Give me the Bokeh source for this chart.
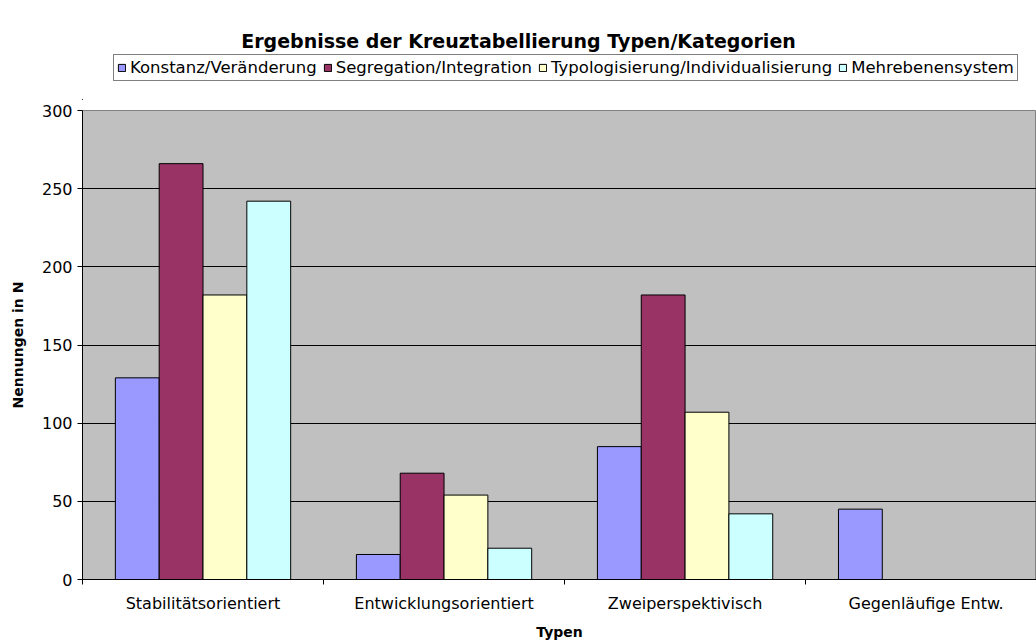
from bokeh.plotting import figure
from bokeh.layouts import column
from bokeh.models import (ColumnDataSource, Range1d, FixedTicker, Legend, LegendItem, Label)
from bokeh.transform import dodge
from bokeh.embed import file_html
from bokeh.resources import INLINE

categories = ["Stabilitätsorientiert", "Entwicklungsorientiert", "Zweiperspektivisch", "Gegenläufige Entw."]
series_names = ["Konstanz/Veränderung", "Segregation/Integration",
                "Typologisierung/Individualisierung", "Mehrebenensystem"]
konstanz = [129, 16, 85, 45]
segregation = [266, 68, 182, 0]
typologisierung = [182, 54, 107, 0]
mehrebenen = [242, 20, 42, 0]
y_ticks = [0, 50, 100, 150, 200, 250, 300]
title_text = "Ergebnisse der Kreuztabellierung Typen/Kategorien"

colors = ["#9999FF", "#993366", "#FFFFCC", "#CCFFFF"]
FONT = "DejaVu Sans"

HEAD_H = 100

# ---------- header figure: title + legend ----------
head = figure(frame_width=1036, frame_height=HEAD_H, output_backend="svg", toolbar_location=None,
              x_range=Range1d(0, 1036), y_range=Range1d(0, HEAD_H),
              min_border_left=0, min_border_right=0, min_border_top=0, min_border_bottom=0)
head.axis.visible = False
head.grid.visible = False
head.outline_line_color = None
head.background_fill_color = "white"
head.border_fill_color = "white"

# legend swatches only (placed outside the visible range)
dummy = ColumnDataSource(dict(x=[-5000], top=[1]))
head_renderers = []
for c in colors:
    r = head.vbar(x="x", top="top", width=1, bottom=0, source=dummy,
                  fill_color=c, line_color="black", line_width=1)
    head_renderers.append(r)

legend = Legend(items=[LegendItem(label=n, renderers=[r]) for n, r in zip(series_names, head_renderers)],
                orientation="horizontal", location=(113, HEAD_H - 81),
                glyph_width=9, glyph_height=9, label_standoff=4, spacing=6,
                padding=3, margin=0,
                label_text_font=FONT, label_text_font_size="16.5px", label_text_color="black",
                border_line_color="black", border_line_width=1,
                background_fill_color="white", label_height=14)
head.add_layout(legend, "center")

head.add_layout(Label(x=436, y=HEAD_H - 40, x_units="screen", y_units="screen", text=title_text,
                      text_font=FONT, text_font_size="19px", text_font_style="bold",
                      text_color="black", text_align="center", text_baseline="middle"))

# ---------- main chart ----------
src = ColumnDataSource(dict(
    x=[i + 0.5 for i in range(len(categories))],
    k=konstanz, s=segregation, t=typologisierung, m=mehrebenen,
))

p = figure(frame_width=954, frame_height=469, output_backend="svg", toolbar_location=None,
           x_range=Range1d(0, 3.958), y_range=Range1d(0, 300),
           min_border_left=82, min_border_right=0, min_border_bottom=65,
           min_border_top=110 - HEAD_H)

p.background_fill_color = "#C0C0C0"
p.border_fill_color = "white"
p.outline_line_color = "#808080"

bw = 1 / 5.5
offsets = [-1.5 * bw, -0.5 * bw, 0.5 * bw, 1.5 * bw]
cols = ["k", "s", "t", "m"]
for col, off, c in zip(cols, offsets, colors):
    p.vbar(x=dodge("x", off), top=col, width=bw, bottom=0, source=src,
           fill_color=c, line_color="black", line_width=1)

# x axis
xa = p.xaxis[0]
xa.ticker = FixedTicker(ticks=[0.5, 1.5, 2.5, 3.5], minor_ticks=[0, 1, 2, 3])
xa.major_label_overrides = {0.5: categories[0], 1.5: categories[1],
                            2.5: categories[2], 3.5: categories[3]}
xa.major_tick_out = 0
xa.major_tick_in = 0
xa.minor_tick_out = 5
xa.minor_tick_in = 0
xa.minor_tick_line_color = "black"
xa.major_label_standoff = 9
xa.major_label_text_font = FONT
xa.major_label_text_font_size = "16px"
xa.major_label_text_color = "black"
xa.axis_line_color = "black"
xa.axis_label = "Typen"
xa.axis_label_text_font = FONT
xa.axis_label_text_font_size = "14px"
xa.axis_label_text_font_style = "bold"
xa.axis_label_text_color = "black"
xa.axis_label_standoff = 8

# y axis
ya = p.yaxis[0]
ya.ticker = FixedTicker(ticks=y_ticks)
ya.major_tick_out = 5
ya.major_tick_in = 0
ya.minor_tick_out = 0
ya.minor_tick_in = 0
ya.major_tick_line_color = "black"
ya.axis_line_color = "black"
ya.major_label_standoff = 5
ya.major_label_text_font = FONT
ya.major_label_text_font_size = "16px"
ya.major_label_text_color = "black"
ya.axis_label = "Nennungen in N"
ya.axis_label_text_font = FONT
ya.axis_label_text_font_size = "14px"
ya.axis_label_text_font_style = "bold"
ya.axis_label_text_color = "black"
ya.axis_label_standoff = 13

p.xgrid.grid_line_color = None
p.ygrid.ticker = FixedTicker(ticks=[50, 100, 150, 200, 250])
p.ygrid.grid_line_color = "black"
p.ygrid.grid_line_width = 1

layout = column(head, p, spacing=0)
open("out.html", "w").write(file_html(layout, INLINE))
